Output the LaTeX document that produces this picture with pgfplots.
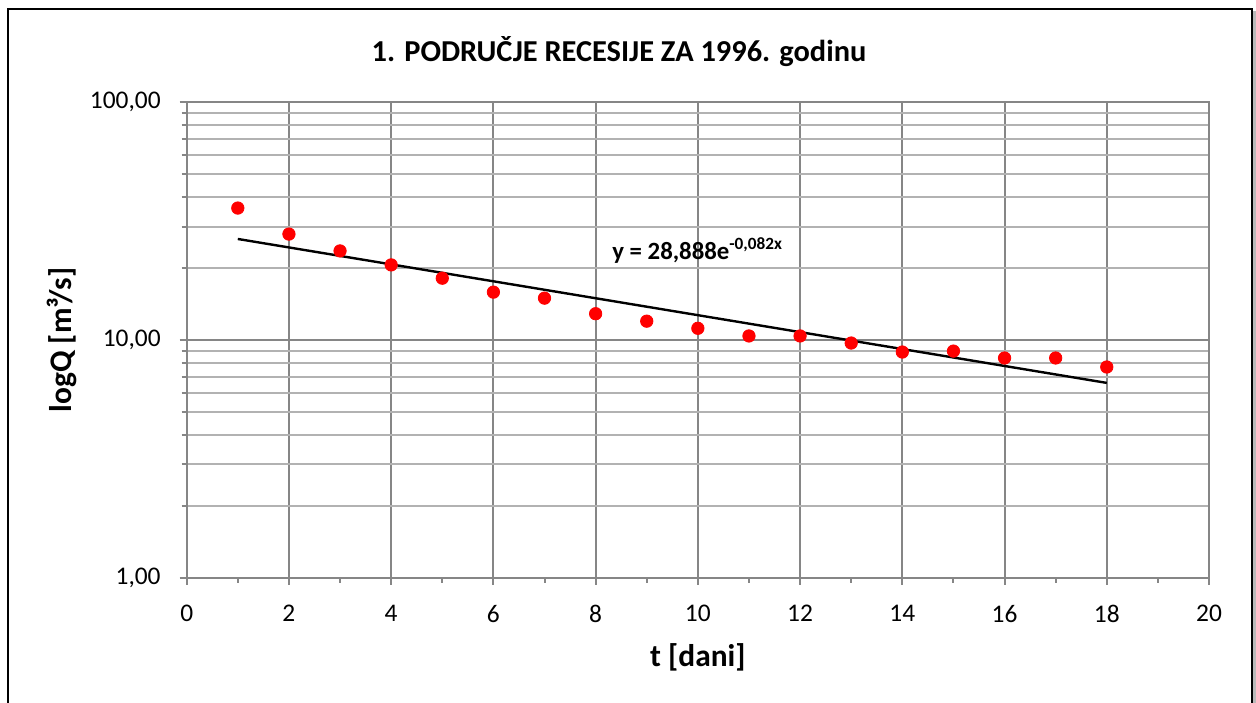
\documentclass[border=0pt]{standalone}
\usepackage{pgfplots}
\pgfplotsset{compat=1.18}
\usepackage{fontspec}
\setmainfont{Carlito}

\definecolor{gridmaj}{RGB}{134,134,134}
\definecolor{gridmin}{RGB}{178,178,178}
\definecolor{ptred}{RGB}{255,0,0}

\begin{document}
\begin{tikzpicture}
\useasboundingbox (0,0) rectangle (628pt,351pt);
% chart frame (bottom edge is cut off in the reference)
\fill[gray!55] (626.4pt,-2pt) rectangle (628pt,345.5pt);
\draw[black, line width=1pt] (4pt,-5pt) -- (4pt,346.5pt) -- (625.8pt,346.5pt) -- (625.8pt,-5pt);

\begin{axis}[
    at={(93.35pt,62.15pt)}, anchor=south west,
    scale only axis,
    width=511.15pt, height=237.7pt,
    xmin=0, xmax=20,
    ymin=1, ymax=100,
    ymode=log,
    xtick={0,2,...,20},
    minor xtick={1,3,...,19},
    ytick={1,10,100},
    yticklabels={{1,00},{10,00},{100,00}},
    /pgf/number format/assume math mode=true,
    ticklabel style={font=\fontsize{12.7}{14}\selectfont},
    xtick pos=bottom, ytick pos=left,
    tick align=outside,
    major tick length=3.5pt,
    minor tick length=2.6pt,
    tick style={gridmaj, line width=1pt},
    xmajorgrids, ymajorgrids, yminorgrids,
    major grid style={gridmaj, line width=1pt},
    minor grid style={gridmin, line width=1pt},
    axis line style={gridmaj, line width=1pt},
    yticklabel style={inner sep=0pt, anchor=east, xshift=-9.35pt},
    xticklabel style={inner sep=0pt, anchor=north, yshift=-10pt},
    xlabel={t [dani]},
    xlabel style={at={(rel axis cs:0.5,-0.1668)}, anchor=center, inner sep=0pt,
        font=\bfseries\fontsize{15.7}{18}\selectfont},
    ylabel={logQ [m³/s]},
    ylabel style={at={(rel axis cs:-0.122,0.5)}, anchor=center, inner sep=0pt, rotate=0,
        font=\bfseries\fontsize{15.7}{18}\selectfont},
    clip=false,
]
\addplot[only marks, mark=*, mark size=3.1pt, mark options={draw=ptred, fill=ptred}]
coordinates {
    (1,35.9) (2,27.9) (3,23.7) (4,20.7) (5,18.2) (6,15.9)
    (7,15.0) (8,12.9) (9,12.0) (10,11.2) (11,10.4) (12,10.4)
    (13,9.71) (14,8.90) (15,8.98) (16,8.40) (17,8.40) (18,7.70)
};
% exponential trendline: straight on a log axis, endpoints y(1) and y(18)
\addplot[black, line width=1.2pt] coordinates {(1,26.61) (18,6.60)};
\node[anchor=base west, inner sep=0pt, font=\bfseries\fontsize{12.4}{14}\selectfont]
    at (axis cs:8.32,21.9)
    {y = 28,888e\raisebox{0.4em}{\fontsize{8.6}{10}\selectfont\bfseries -0,082x}};
\end{axis}
% chart title
\node[anchor=base, inner sep=0pt, font=\bfseries\fontsize{15.2}{17}\selectfont]
    at (309.5pt,320.3pt) {1. PODRUČJE RECESIJE ZA 1996. godinu};
\end{tikzpicture}
\end{document}
